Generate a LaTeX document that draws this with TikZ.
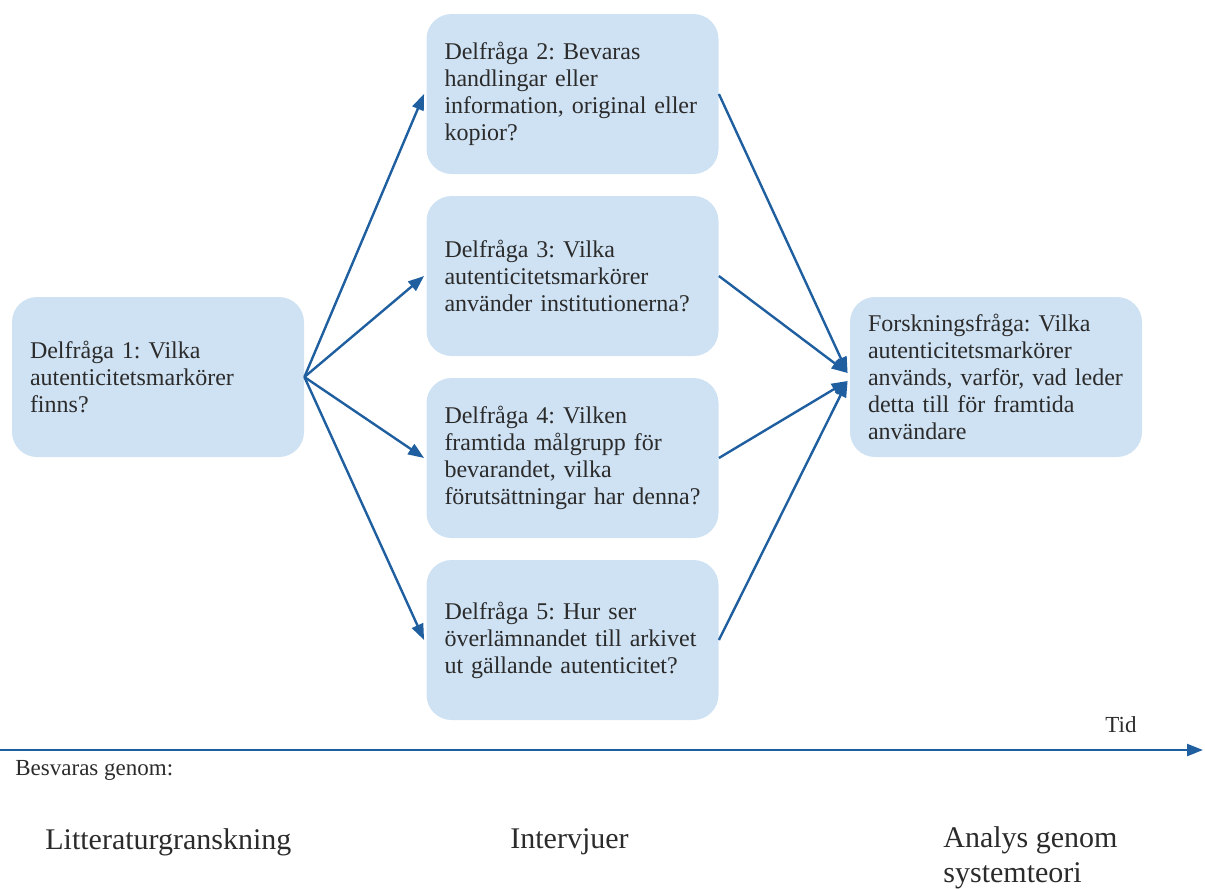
\documentclass[tikz,border=0pt]{standalone}
\usepackage{fontspec}
\setmainfont{Liberation Serif}
\frenchspacing
\usetikzlibrary{arrows.meta,calc}
\definecolor{boxfill}{HTML}{CFE2F3}
\definecolor{linkblue}{HTML}{1F5FA0}
\definecolor{ink}{HTML}{2B2B2B}
\tikzset{
  qbox/.style={rectangle, rounded corners=12.5pt, fill=boxfill, draw=none,
    text width=128pt, inner xsep=9pt, inner ysep=0pt, minimum height=80pt,
    align=left, font=\fontsize{12}{13.5}\selectfont, text=ink},
  link/.style={draw=linkblue, line width=1.2pt, -{Triangle[length=8pt,width=6pt]}},
  note/.style={inner sep=0pt, text=ink, align=left},
}
\begin{document}
\begin{tikzpicture}[x=0.5pt,y=-0.5pt]
  \useasboundingbox (0,0) rectangle (1205,889);

  % question boxes
  \node[qbox] (b1) at (158,377) {Delfråga 1: Vilka\\autenticitetsmarkörer\\finns?};
  \node[qbox] (b2) at (572.5,94) {Delfråga 2: Bevaras\\handlingar eller\\information, original eller\\kopior?};
  \node[qbox] (b3) at (572.5,276) {Delfråga 3: Vilka\\autenticitetsmarkörer\\använder institutionerna?};
  \node[qbox] (b4) at (572.5,458) {Delfråga 4: Vilken\\framtida målgrupp för\\bevarandet, vilka\\förutsättningar har denna?};
  \node[qbox] (b5) at (572.5,640) {Delfråga 5: Hur ser\\överlämnandet till arkivet\\ut gällande autenticitet?};
  \node[qbox] (b6) at (996,377) {Forskningsfråga: Vilka\\autenticitetsmarkörer\\används, varför, vad leder\\detta till för framtida\\användare};

  % fan out from the first question
  \foreach \t in {b2,b3,b4,b5}
    \draw[link] (b1.east) -- ($(\t.west)+(-2,0)$);

  % converge on the research question
  \coordinate (in6a) at ($(b6.west)+(-2,-4)$);
  \coordinate (in6b) at ($(b6.west)+(-2,4)$);
  \draw[link] (b2.east) -- (in6a);
  \draw[link] (b3.east) -- (in6a);
  \draw[link] (b4.east) -- (in6b);
  \draw[link] (b5.east) -- (in6b);

  % time axis
  \coordinate (t0) at (0,750);
  \coordinate (t1) at (1203,750);
  \draw[draw=linkblue, line width=1.2pt, -{Triangle[length=8pt,width=6pt]}] (t0) -- (t1);
  \node[note, font=\fontsize{11.5}{13}\selectfont] (tid) at (1121,725) {Tid};
  \node[note, anchor=west, font=\fontsize{11.5}{13}\selectfont] (besv) at (15,770) {Besvaras genom:};

  % methods
  \node[note, anchor=west, font=\fontsize{15}{17.5}\selectfont] (m1) at (45,842) {Litteraturgranskning};
  \node[note, anchor=west, font=\fontsize{15}{17.5}\selectfont] (m2) at (510,842) {Intervjuer};
  \node[note, anchor=north west, font=\fontsize{15}{17.5}\selectfont] (m3) at (943,826) {Analys genom\\systemteori};
\end{tikzpicture}
\end{document}
